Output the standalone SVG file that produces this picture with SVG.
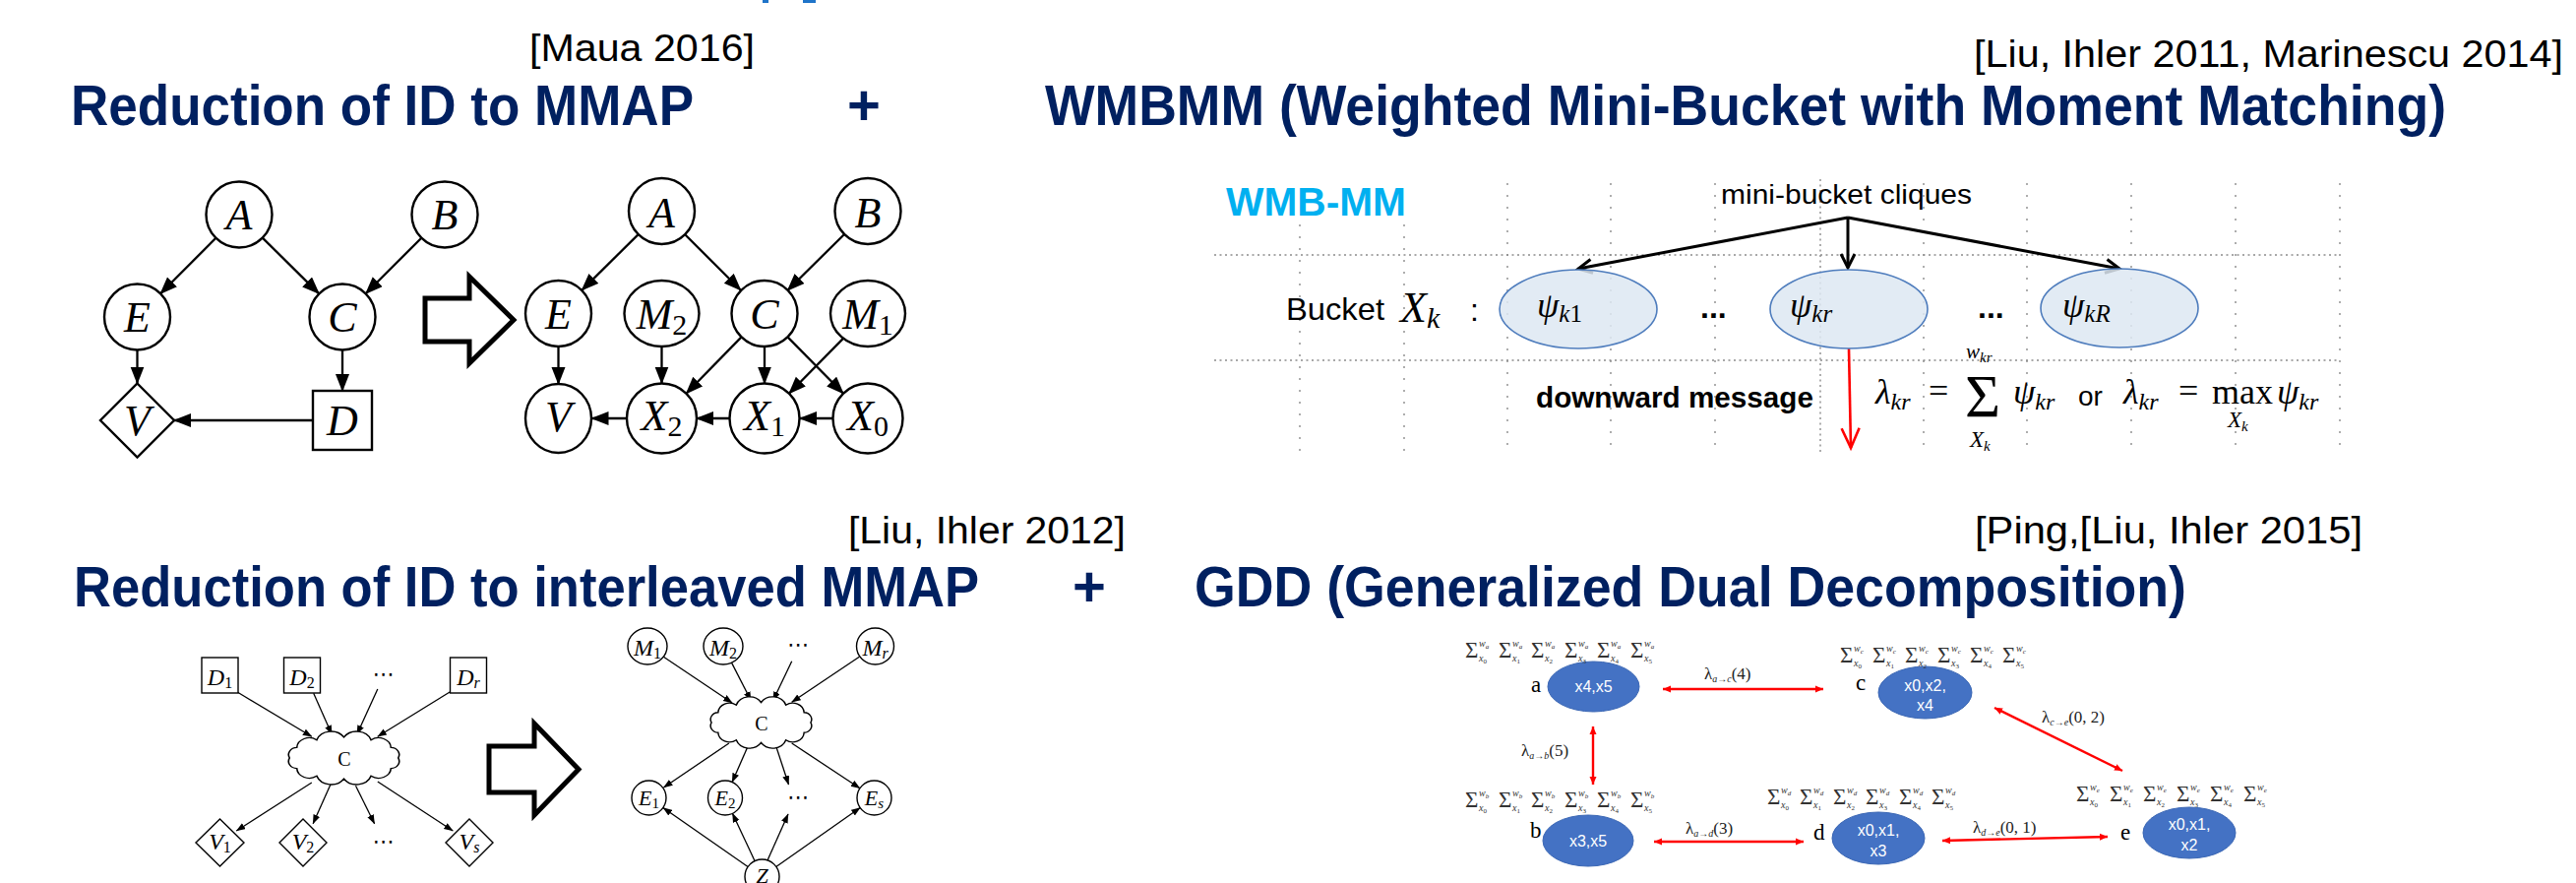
<svg xmlns="http://www.w3.org/2000/svg" width="2618" height="897" viewBox="0 0 2618 897">
<style>
  .ttl{font-family:"Liberation Sans",Arial,sans-serif;font-weight:bold;font-size:58px;fill:#002060}
  .cite{font-family:"Liberation Sans",Arial,sans-serif;font-size:38px;fill:#000}
  .sans{font-family:"Liberation Sans",Arial,sans-serif;fill:#000}
  .mi{font-family:"Liberation Serif","Times New Roman",serif;font-style:italic;fill:#000}
  .rm{font-family:"Liberation Serif","Times New Roman",serif;font-style:normal;fill:#000}
  .lg{font-size:44px}
  .sub{font-size:30px}
  .sm{font-size:24px}
  .smsub{font-size:16px}
  .nd{fill:#fff;stroke:#000;stroke-width:2.4}
  .ed{fill:none;stroke:#000;stroke-width:2.3;marker-end:url(#ah)}
  .nd2{fill:#fff;stroke:#000;stroke-width:1.4}
  .cl{fill:#fff;stroke:#000;stroke-width:1.4}
  .ed2{fill:none;stroke:#000;stroke-width:1.3;marker-end:url(#ah2)}
  .blk{fill:#fff;stroke:#000;stroke-width:5;stroke-linejoin:miter}
  .gh{stroke:#8c8c8c;stroke-width:1.4;stroke-dasharray:2 3.5;fill:none}
  .gv{stroke:#8c8c8c;stroke-width:1.4;stroke-dasharray:2 10;fill:none}
  .bk{fill:#dde7f2;fill-opacity:0.85;stroke:#4f7dbd;stroke-width:1.6}
  .mb{fill:none;stroke:#000;stroke-width:3;marker-end:url(#chev)}
  .gn{fill:#4472c4;stroke:#3b67b4;stroke-width:1}
  .gt{font-family:"Liberation Sans",Arial,sans-serif;font-size:16px;fill:#fff;text-anchor:middle}
  .gl{font-family:"Liberation Serif","Times New Roman",serif;font-size:23px;fill:#000}
  .ge{fill:none;stroke:#f00;stroke-width:2.4;marker-start:url(#rh);marker-end:url(#rh)}
  .sg{font-family:"Liberation Serif","Times New Roman",serif;font-size:23px;fill:#333}
  .sw{font-style:italic;font-size:10px}
  .sl{font-style:italic;font-size:7px}
  .sd{font-style:normal;font-size:7px}
  .lm{font-family:"Liberation Serif","Times New Roman",serif;font-size:17px;fill:#222}
  .ls{font-style:italic;font-size:10px}
  .dots{font-family:"DejaVu Sans",sans-serif;font-size:22px;text-anchor:middle;fill:#000}
</style>
<defs>
  <marker id="ah" markerUnits="userSpaceOnUse" markerWidth="20" markerHeight="16" refX="17" refY="7" orient="auto">
    <path d="M0,0 L18,7 L0,14 Z" fill="#000"/>
  </marker>
  <marker id="ah2" markerUnits="userSpaceOnUse" markerWidth="12" markerHeight="8" refX="9" refY="3.5" orient="auto">
    <path d="M0,0 L9.5,3.5 L0,7 Z" fill="#000"/>
  </marker>
  <marker id="chev" markerUnits="userSpaceOnUse" markerWidth="20" markerHeight="20" refX="15" refY="8" orient="auto" overflow="visible">
    <path d="M1,1 L15,8 L1,15" fill="none" stroke="#000" stroke-width="3"/>
  </marker>
  <marker id="chevr" markerUnits="userSpaceOnUse" markerWidth="24" markerHeight="22" refX="21" refY="10" orient="auto" overflow="visible">
    <path d="M1,1 L21,10 L1,19" fill="none" stroke="#f00" stroke-width="2.6"/>
  </marker>
  <marker id="rh" markerUnits="userSpaceOnUse" markerWidth="10" markerHeight="8" refX="8" refY="4" orient="auto-start-reverse">
    <path d="M0,0.5 L8,4 L0,7.5 Z" fill="#f00"/>
  </marker>
  <!-- scalloped cloud outline, centred on the origin -->
  <path id="cloud" d="M48,0 A7.5,7.5 0 0 1 41.6,11 A11,11 0 0 1 24,19.1 A13.5,13.5 0 0 1 0,22 A13.5,13.5 0 0 1 -24,19.1 A11,11 0 0 1 -41.6,11 A7.5,7.5 0 0 1 -48,0 A7.5,7.5 0 0 1 -41.6,-11 A11,11 0 0 1 -24,-19.1 A13.5,13.5 0 0 1 0,-22 A13.5,13.5 0 0 1 24,-19.1 A11,11 0 0 1 41.6,-11 A7.5,7.5 0 0 1 48,0 Z"/>
</defs>

<rect width="2618" height="897" fill="#fff"/>

<!-- remnants of the heading cut off at the top edge -->
<g id="top-edge" fill="#1f74c9">
  <rect x="775" y="0" width="6" height="3"/>
  <rect x="816" y="0" width="13" height="3"/>
</g>

<!-- section headings -->
<g id="headings">
  <text class="cite" x="538" y="62" textLength="229" lengthAdjust="spacingAndGlyphs">[Maua 2016]</text>
  <text class="ttl" x="72" y="127" textLength="633" lengthAdjust="spacingAndGlyphs">Reduction of ID to MMAP</text>
  <text class="ttl" x="878" y="127" text-anchor="middle">+</text>
  <text class="cite" x="2006" y="68" textLength="599" lengthAdjust="spacingAndGlyphs">[Liu, Ihler 2011, Marinescu 2014]</text>
  <text class="ttl" x="1062" y="127" textLength="1424" lengthAdjust="spacingAndGlyphs">WMBMM (Weighted Mini-Bucket with Moment Matching)</text>
  <text class="cite" x="862" y="552" textLength="282" lengthAdjust="spacingAndGlyphs">[Liu, Ihler 2012]</text>
  <text class="ttl" x="75" y="616" textLength="920" lengthAdjust="spacingAndGlyphs">Reduction of ID to interleaved MMAP</text>
  <text class="ttl" x="1107" y="616" text-anchor="middle">+</text>
  <text class="cite" x="2007" y="552" textLength="394" lengthAdjust="spacingAndGlyphs">[Ping,[Liu, Ihler 2015]</text>
  <text class="ttl" x="1214" y="616" textLength="1008" lengthAdjust="spacingAndGlyphs">GDD (Generalized Dual Decomposition)</text>
</g>

<!-- ===== influence diagram (top left) ===== -->
<g id="id-edges">
  <line class="ed" x1="219.4" y1="241.8" x2="163.1" y2="298.3"/>
  <line class="ed" x1="266.8" y1="241.6" x2="324.2" y2="298.4"/>
  <line class="ed" x1="428.3" y1="241.7" x2="371.7" y2="298.3"/>
  <line class="ed" x1="139.5" y1="355.5" x2="139.5" y2="389.5"/>
  <line class="ed" x1="348" y1="355.5" x2="348" y2="397"/>
  <line class="ed" x1="318" y1="427" x2="177" y2="427"/>
</g>
<g id="id-A"><circle class="nd" cx="243" cy="218" r="33.5"/><text class="mi lg" x="243" y="233" text-anchor="middle">A</text></g>
<g id="id-B"><circle class="nd" cx="452" cy="218" r="33.5"/><text class="mi lg" x="452" y="233" text-anchor="middle">B</text></g>
<g id="id-E"><circle class="nd" cx="139.5" cy="322" r="33.5"/><text class="mi lg" x="139.5" y="337" text-anchor="middle">E</text></g>
<g id="id-C"><circle class="nd" cx="348" cy="322" r="33.5"/><text class="mi lg" x="348" y="337" text-anchor="middle">C</text></g>
<g id="id-V"><polygon class="nd" points="139.5,389.5 177,427 139.5,464.5 102,427"/><text class="mi lg" x="139.5" y="442" text-anchor="middle">V</text></g>
<g id="id-D"><rect class="nd" x="318" y="397" width="60" height="60"/><text class="mi lg" x="348" y="442" text-anchor="middle">D</text></g>

<g id="arrow-1"><path class="blk" d="M432,303 L477,303 L477,281 L522,325 L477,369 L477,347 L432,347 Z"/></g>

<!-- ===== MMAP network (top middle) ===== -->
<g id="mm-edges">
  <line class="ed" x1="648.7" y1="238.1" x2="591.3" y2="294.9"/>
  <line class="ed" x1="696.2" y1="238.2" x2="752.8" y2="294.8"/>
  <line class="ed" x1="858.1" y1="238" x2="800.4" y2="295"/>
  <line class="ed" x1="567.5" y1="352" x2="567.5" y2="390"/>
  <line class="ed" x1="672.5" y1="352" x2="672.5" y2="389.5"/>
  <line class="ed" x1="777" y1="352" x2="777" y2="389.5"/>
  <line class="ed" x1="753.5" y1="342.4" x2="697.4" y2="399.7"/>
  <line class="ed" x1="800.5" y1="342.4" x2="857.1" y2="399.7"/>
  <line class="ed" x1="857.4" y1="343.4" x2="801.9" y2="399.7"/>
  <line class="ed" x1="846.5" y1="425" x2="813" y2="425"/>
  <line class="ed" x1="741.5" y1="425" x2="708" y2="425"/>
  <line class="ed" x1="636.5" y1="425" x2="601.5" y2="425"/>
</g>
<g id="mm-A"><circle class="nd" cx="672.5" cy="214.5" r="33.5"/><text class="mi lg" x="672.5" y="231" text-anchor="middle">A</text></g>
<g id="mm-B"><circle class="nd" cx="882" cy="214.5" r="33.5"/><text class="mi lg" x="882" y="231" text-anchor="middle">B</text></g>
<g id="mm-E"><circle class="nd" cx="567.5" cy="318.5" r="33.5"/><text class="mi lg" x="567.5" y="334" text-anchor="middle">E</text></g>
<g id="mm-M2"><ellipse class="nd" cx="672.5" cy="318.5" rx="38" ry="33.5"/><text class="mi lg" x="672.5" y="334" text-anchor="middle">M<tspan class="rm sub" dy="6">2</tspan></text></g>
<g id="mm-C"><circle class="nd" cx="777" cy="318.5" r="33.5"/><text class="mi lg" x="777" y="334" text-anchor="middle">C</text></g>
<g id="mm-M1"><ellipse class="nd" cx="882" cy="318.5" rx="38" ry="33.5"/><text class="mi lg" x="882" y="334" text-anchor="middle">M<tspan class="rm sub" dy="6">1</tspan></text></g>
<g id="mm-V"><ellipse class="nd" cx="567.5" cy="425" rx="33.5" ry="35"/><text class="mi lg" x="567.5" y="438" text-anchor="middle">V</text></g>
<g id="mm-X2"><circle class="nd" cx="672.5" cy="425" r="35.5"/><text class="mi lg" x="672.5" y="437" text-anchor="middle">X<tspan class="rm sub" dy="6">2</tspan></text></g>
<g id="mm-X1"><circle class="nd" cx="777" cy="425" r="35.5"/><text class="mi lg" x="777" y="437" text-anchor="middle">X<tspan class="rm sub" dy="6">1</tspan></text></g>
<g id="mm-X0"><circle class="nd" cx="882" cy="425" r="35.5"/><text class="mi lg" x="882" y="437" text-anchor="middle">X<tspan class="rm sub" dy="6">0</tspan></text></g>

<!-- ===== WMB-MM bucket (top right) ===== -->
<g id="wmb-grid">
  <line class="gh" x1="1234" y1="259" x2="2378" y2="259"/>
  <line class="gh" x1="1234" y1="366" x2="2378" y2="366"/>
  <line class="gv" x1="1321" y1="228" x2="1321" y2="460"/>
  <line class="gv" x1="1427" y1="228" x2="1427" y2="460"/>
  <line class="gv" x1="1532" y1="186" x2="1532" y2="460"/>
  <line class="gv" x1="1637" y1="186" x2="1637" y2="460"/>
  <line class="gv" x1="1743" y1="186" x2="1743" y2="460"/>
  <line class="gh" x1="1850" y1="182" x2="1850" y2="460"/>
  <line class="gv" x1="1955" y1="186" x2="1955" y2="460"/>
  <line class="gv" x1="2060" y1="186" x2="2060" y2="460"/>
  <line class="gv" x1="2166" y1="186" x2="2166" y2="460"/>
  <line class="gv" x1="2272" y1="186" x2="2272" y2="460"/>
  <line class="gv" x1="2378" y1="186" x2="2378" y2="460"/>
</g>
<text x="1246" y="219" font-family="Liberation Sans, Arial, sans-serif" font-weight="bold" font-size="41" fill="#00b0f0" textLength="183" lengthAdjust="spacingAndGlyphs">WMB-MM</text>
<text class="sans" x="1749" y="207" font-size="28" textLength="255" lengthAdjust="spacingAndGlyphs">mini-bucket cliques</text>
<g id="wmb-edges">
  <line class="mb" x1="1878" y1="221" x2="1604" y2="273"/>
  <line class="mb" x1="1878" y1="221" x2="1878" y2="272"/>
  <line class="mb" x1="1878" y1="221" x2="2154" y2="273"/>
  <line x1="1879" y1="354" x2="1881" y2="455" stroke="#f00" stroke-width="2.6" marker-end="url(#chevr)"/>
</g>
<g id="bucket-label">
  <text class="sans" x="1307" y="325" font-size="32" textLength="100" lengthAdjust="spacingAndGlyphs">Bucket</text>
  <text class="mi" x="1423" y="327" font-size="44">X<tspan font-size="30" dy="6">k</tspan></text>
  <text class="sans" x="1494" y="326" font-size="32">:</text>
</g>
<g id="clique-k1"><ellipse class="bk" cx="1604" cy="314" rx="80" ry="40"/><text class="mi" x="1562" y="322" font-size="36">ψ<tspan font-size="25" dy="5">k</tspan><tspan class="rm" font-size="25">1</tspan></text></g>
<text class="sans" x="1728" y="323" font-size="32" font-weight="bold">...</text>
<g id="clique-kr"><ellipse class="bk" cx="1879" cy="314" rx="80" ry="40"/><text class="mi" x="1819" y="322" font-size="36">ψ<tspan font-size="25" dy="5">kr</tspan></text></g>
<text class="sans" x="2010" y="323" font-size="32" font-weight="bold">...</text>
<g id="clique-kR"><ellipse class="bk" cx="2154" cy="313" rx="80" ry="40"/><text class="mi" x="2096" y="322" font-size="36">ψ<tspan font-size="25" dy="5">kR</tspan></text></g>
<text class="sans" x="1561" y="414" font-size="29" font-weight="bold" fill="#f00" textLength="282" lengthAdjust="spacingAndGlyphs">downward message</text>
<g id="message-formula">
  <text class="mi" x="1906" y="410" font-size="36">λ<tspan font-size="24" dy="6">kr</tspan></text>
  <text class="rm" x="1960" y="409" font-size="36">=</text>
  <text class="rm" x="1997" y="423" font-size="62">Σ</text>
  <text class="mi" x="1998" y="364" font-size="21">w<tspan font-size="15" dy="4">kr</tspan></text>
  <text class="mi" x="2002" y="454" font-size="23">X<tspan font-size="15" dy="4">k</tspan></text>
  <text class="mi" x="2046" y="410" font-size="36">ψ<tspan font-size="24" dy="6">kr</tspan></text>
  <text class="sans" x="2112" y="412" font-size="28">or</text>
  <text class="mi" x="2158" y="410" font-size="36">λ<tspan font-size="24" dy="6">kr</tspan></text>
  <text class="rm" x="2214" y="409" font-size="36">=</text>
  <text class="rm" x="2248" y="410" font-size="36">max</text>
  <text class="mi" x="2264" y="434" font-size="23">X<tspan font-size="15" dy="4">k</tspan></text>
  <text class="mi" x="2314" y="410" font-size="36">ψ<tspan font-size="24" dy="6">kr</tspan></text>
</g>

<!-- ===== decision network with cloud (bottom left) ===== -->
<g id="dn-edges">
  <line class="ed2" x1="241.6" y1="703.3" x2="316.8" y2="748.3"/>
  <line class="ed2" x1="318.7" y1="704.3" x2="337.2" y2="746"/>
  <line class="ed2" x1="383.8" y1="700" x2="362.8" y2="746"/>
  <line class="ed2" x1="457.1" y1="703" x2="383.8" y2="748.3"/>
  <line class="ed2" x1="316.8" y1="795" x2="240.3" y2="844"/>
  <line class="ed2" x1="336" y1="796.7" x2="318.1" y2="836.7"/>
  <line class="ed2" x1="361.5" y1="798.3" x2="380.6" y2="836.7"/>
  <line class="ed2" x1="383.8" y1="794" x2="460.3" y2="844"/>
</g>
<g id="dn-D1"><rect class="nd2" x="205" y="668" width="37" height="36"/><text class="mi sm" x="223.5" y="696" text-anchor="middle">D<tspan class="rm smsub" dy="3">1</tspan></text></g>
<g id="dn-D2"><rect class="nd2" x="288.5" y="668" width="37" height="36"/><text class="mi sm" x="307" y="696" text-anchor="middle">D<tspan class="rm smsub" dy="3">2</tspan></text></g>
<text class="dots" x="389.5" y="692">⋯</text>
<g id="dn-Dr"><rect class="nd2" x="457.5" y="668" width="37" height="36"/><text class="mi sm" x="476" y="696" text-anchor="middle">D<tspan class="smsub" dy="3">r</tspan></text></g>
<g id="dn-C"><use href="#cloud" class="cl" vector-effect="non-scaling-stroke" transform="translate(349.5,770) scale(1.15,0.96)"/><text class="rm" x="350" y="778" font-size="20" text-anchor="middle">C</text></g>
<g id="dn-V1"><polygon class="nd2" points="223.5,832 248,856 223.5,880 199,856"/><text class="mi sm" x="223.5" y="863" text-anchor="middle">V<tspan class="rm smsub" dy="3">1</tspan></text></g>
<g id="dn-V2"><polygon class="nd2" points="308,832 332,856 308,880 284,856"/><text class="mi sm" x="308" y="863" text-anchor="middle">V<tspan class="rm smsub" dy="3">2</tspan></text></g>
<text class="dots" x="389.5" y="862">⋯</text>
<g id="dn-Vs"><polygon class="nd2" points="477,832 501,856 477,880 453,856"/><text class="mi sm" x="477" y="863" text-anchor="middle">V<tspan class="smsub" dy="3">s</tspan></text></g>

<g id="arrow-2"><path class="blk" d="M497,758 L543,758 L543,735 L588,781.5 L543,828 L543,805 L497,805 Z"/></g>

<!-- ===== interleaved MMAP network (bottom middle) ===== -->
<g id="im-edges">
  <line class="ed2" x1="674" y1="667" x2="744.1" y2="714"/>
  <line class="ed2" x1="743.5" y1="673.1" x2="763.3" y2="711.7"/>
  <line class="ed2" x1="804.7" y1="671.7" x2="785.6" y2="711.7"/>
  <line class="ed2" x1="873.3" y1="667.3" x2="804.7" y2="713.3"/>
  <line class="ed2" x1="740.9" y1="755" x2="674.5" y2="800"/>
  <line class="ed2" x1="760" y1="758.3" x2="744.1" y2="794.5"/>
  <line class="ed2" x1="788.8" y1="758.3" x2="801.5" y2="797"/>
  <line class="ed2" x1="804.7" y1="755" x2="873.9" y2="800.8"/>
  <line class="ed2" x1="760.1" y1="880.5" x2="673.9" y2="820.5"/>
  <line class="ed2" x1="767.1" y1="874.7" x2="744.4" y2="826.3"/>
  <line class="ed2" x1="780" y1="874" x2="801" y2="827"/>
  <line class="ed2" x1="788.8" y1="880.5" x2="874.2" y2="820.5"/>
</g>
<g id="im-M1"><ellipse class="nd2" cx="658" cy="656.5" rx="20" ry="18.5"/><text class="mi sm" x="658" y="666" text-anchor="middle">M<tspan class="rm smsub" dy="3">1</tspan></text></g>
<g id="im-M2"><ellipse class="nd2" cx="735" cy="656.5" rx="20" ry="18.5"/><text class="mi sm" x="735" y="666" text-anchor="middle">M<tspan class="rm smsub" dy="3">2</tspan></text></g>
<text class="dots" x="811" y="662">⋯</text>
<g id="im-Mr"><ellipse class="nd2" cx="889.5" cy="656.5" rx="19" ry="18.5"/><text class="mi sm" x="889.5" y="666" text-anchor="middle">M<tspan class="smsub" dy="3">r</tspan></text></g>
<g id="im-C"><use href="#cloud" class="cl" vector-effect="non-scaling-stroke" transform="translate(773.5,734) scale(1.05,0.93)"/><text class="rm" x="774" y="742" font-size="20" text-anchor="middle">C</text></g>
<g id="im-E1"><circle class="nd2" cx="659.5" cy="810.5" r="17.5"/><text class="mi" x="659.5" y="818" font-size="22" text-anchor="middle">E<tspan class="rm" font-size="15" dy="3">1</tspan></text></g>
<g id="im-E2"><circle class="nd2" cx="737" cy="810.5" r="17.5"/><text class="mi" x="737" y="818" font-size="22" text-anchor="middle">E<tspan class="rm" font-size="15" dy="3">2</tspan></text></g>
<text class="dots" x="811" y="817">⋯</text>
<g id="im-Es"><circle class="nd2" cx="888.5" cy="810.5" r="17.5"/><text class="mi" x="888.5" y="818" font-size="22" text-anchor="middle">E<tspan font-size="15" dy="3">s</tspan></text></g>
<g id="im-Z"><circle class="nd2" cx="774.5" cy="890.5" r="17.5"/><text class="mi" x="774.5" y="897" font-size="22" text-anchor="middle">Z</text></g>

<!-- ===== GDD cluster graph (bottom right) ===== -->
<g id="gdd-edges">
  <line class="ge" x1="1690" y1="700" x2="1853" y2="700"/>
  <line class="ge" x1="1619" y1="738" x2="1619" y2="797"/>
  <line class="ge" x1="2027" y1="719" x2="2157" y2="783"/>
  <line class="ge" x1="1681" y1="855" x2="1833" y2="855"/>
  <line class="ge" x1="1974" y1="854" x2="2142" y2="850"/>
  <text class="lm" x="1732" y="690">λ<tspan class="ls" dy="3">a→c</tspan><tspan dy="-3">(4)</tspan></text>
  <text class="lm" x="1546" y="768">λ<tspan class="ls" dy="3">a→b</tspan><tspan dy="-3">(5)</tspan></text>
  <text class="lm" x="2075" y="734">λ<tspan class="ls" dy="3">c→e</tspan><tspan dy="-3">(0, 2)</tspan></text>
  <text class="lm" x="1713" y="847">λ<tspan class="ls" dy="3">a→d</tspan><tspan dy="-3">(3)</tspan></text>
  <text class="lm" x="2005" y="846">λ<tspan class="ls" dy="3">d→e</tspan><tspan dy="-3">(0, 1)</tspan></text>
</g>

<g id="gdd-a">
  <ellipse class="gn" cx="1619.5" cy="697.5" rx="46.5" ry="25.5"/>
  <text class="gt" x="1619.5" y="703">x4,x5</text>
  <text class="gl" x="1556" y="703">a</text>
  <text class="sg"><tspan x="1489" y="668">Σ</tspan><tspan class="sw" x="1503" y="657">w</tspan><tspan class="sl" dy="2">a</tspan><tspan class="sw" x="1503" y="672">x</tspan><tspan class="sd" dy="2">0</tspan><tspan x="1523" y="668">Σ</tspan><tspan class="sw" x="1537" y="657">w</tspan><tspan class="sl" dy="2">a</tspan><tspan class="sw" x="1537" y="672">x</tspan><tspan class="sd" dy="2">1</tspan><tspan x="1556" y="668">Σ</tspan><tspan class="sw" x="1570" y="657">w</tspan><tspan class="sl" dy="2">a</tspan><tspan class="sw" x="1570" y="672">x</tspan><tspan class="sd" dy="2">2</tspan><tspan x="1590" y="668">Σ</tspan><tspan class="sw" x="1604" y="657">w</tspan><tspan class="sl" dy="2">a</tspan><tspan class="sw" x="1604" y="672">x</tspan><tspan class="sd" dy="2">3</tspan><tspan x="1623" y="668">Σ</tspan><tspan class="sw" x="1637" y="657">w</tspan><tspan class="sl" dy="2">a</tspan><tspan class="sw" x="1637" y="672">x</tspan><tspan class="sd" dy="2">4</tspan><tspan x="1657" y="668">Σ</tspan><tspan class="sw" x="1671" y="657">w</tspan><tspan class="sl" dy="2">a</tspan><tspan class="sw" x="1671" y="672">x</tspan><tspan class="sd" dy="2">5</tspan></text>
</g>
<g id="gdd-c">
  <ellipse class="gn" cx="1956.5" cy="703.5" rx="47.5" ry="26.5"/>
  <text class="gt" x="1956.5" y="702">x0,x2,</text>
  <text class="gt" x="1956.5" y="722">x4</text>
  <text class="gl" x="1886" y="701">c</text>
  <text class="sg"><tspan x="1870" y="673">Σ</tspan><tspan class="sw" x="1884" y="662">w</tspan><tspan class="sl" dy="2">c</tspan><tspan class="sw" x="1884" y="677">x</tspan><tspan class="sd" dy="2">0</tspan><tspan x="1903" y="673">Σ</tspan><tspan class="sw" x="1917" y="662">w</tspan><tspan class="sl" dy="2">c</tspan><tspan class="sw" x="1917" y="677">x</tspan><tspan class="sd" dy="2">1</tspan><tspan x="1936" y="673">Σ</tspan><tspan class="sw" x="1950" y="662">w</tspan><tspan class="sl" dy="2">c</tspan><tspan class="sw" x="1950" y="677">x</tspan><tspan class="sd" dy="2">2</tspan><tspan x="1969" y="673">Σ</tspan><tspan class="sw" x="1983" y="662">w</tspan><tspan class="sl" dy="2">c</tspan><tspan class="sw" x="1983" y="677">x</tspan><tspan class="sd" dy="2">3</tspan><tspan x="2002" y="673">Σ</tspan><tspan class="sw" x="2016" y="662">w</tspan><tspan class="sl" dy="2">c</tspan><tspan class="sw" x="2016" y="677">x</tspan><tspan class="sd" dy="2">4</tspan><tspan x="2035" y="673">Σ</tspan><tspan class="sw" x="2049" y="662">w</tspan><tspan class="sl" dy="2">c</tspan><tspan class="sw" x="2049" y="677">x</tspan><tspan class="sd" dy="2">5</tspan></text>
</g>
<g id="gdd-b">
  <ellipse class="gn" cx="1614" cy="854" rx="46" ry="26"/>
  <text class="gt" x="1614" y="860">x3,x5</text>
  <text class="gl" x="1555" y="851">b</text>
  <text class="sg"><tspan x="1489" y="820">Σ</tspan><tspan class="sw" x="1503" y="809">w</tspan><tspan class="sl" dy="2">b</tspan><tspan class="sw" x="1503" y="824">x</tspan><tspan class="sd" dy="2">0</tspan><tspan x="1523" y="820">Σ</tspan><tspan class="sw" x="1537" y="809">w</tspan><tspan class="sl" dy="2">b</tspan><tspan class="sw" x="1537" y="824">x</tspan><tspan class="sd" dy="2">1</tspan><tspan x="1556" y="820">Σ</tspan><tspan class="sw" x="1570" y="809">w</tspan><tspan class="sl" dy="2">b</tspan><tspan class="sw" x="1570" y="824">x</tspan><tspan class="sd" dy="2">2</tspan><tspan x="1590" y="820">Σ</tspan><tspan class="sw" x="1604" y="809">w</tspan><tspan class="sl" dy="2">b</tspan><tspan class="sw" x="1604" y="824">x</tspan><tspan class="sd" dy="2">3</tspan><tspan x="1623" y="820">Σ</tspan><tspan class="sw" x="1637" y="809">w</tspan><tspan class="sl" dy="2">b</tspan><tspan class="sw" x="1637" y="824">x</tspan><tspan class="sd" dy="2">4</tspan><tspan x="1657" y="820">Σ</tspan><tspan class="sw" x="1671" y="809">w</tspan><tspan class="sl" dy="2">b</tspan><tspan class="sw" x="1671" y="824">x</tspan><tspan class="sd" dy="2">5</tspan></text>
</g>
<g id="gdd-d">
  <ellipse class="gn" cx="1909" cy="851.5" rx="47" ry="26.5"/>
  <text class="gt" x="1909" y="849">x0,x1,</text>
  <text class="gt" x="1909" y="870">x3</text>
  <text class="gl" x="1843" y="853">d</text>
  <text class="sg"><tspan x="1796" y="817">Σ</tspan><tspan class="sw" x="1810" y="806">w</tspan><tspan class="sl" dy="2">d</tspan><tspan class="sw" x="1810" y="821">x</tspan><tspan class="sd" dy="2">0</tspan><tspan x="1829" y="817">Σ</tspan><tspan class="sw" x="1843" y="806">w</tspan><tspan class="sl" dy="2">d</tspan><tspan class="sw" x="1843" y="821">x</tspan><tspan class="sd" dy="2">1</tspan><tspan x="1863" y="817">Σ</tspan><tspan class="sw" x="1877" y="806">w</tspan><tspan class="sl" dy="2">d</tspan><tspan class="sw" x="1877" y="821">x</tspan><tspan class="sd" dy="2">2</tspan><tspan x="1896" y="817">Σ</tspan><tspan class="sw" x="1910" y="806">w</tspan><tspan class="sl" dy="2">d</tspan><tspan class="sw" x="1910" y="821">x</tspan><tspan class="sd" dy="2">3</tspan><tspan x="1930" y="817">Σ</tspan><tspan class="sw" x="1944" y="806">w</tspan><tspan class="sl" dy="2">d</tspan><tspan class="sw" x="1944" y="821">x</tspan><tspan class="sd" dy="2">4</tspan><tspan x="1963" y="817">Σ</tspan><tspan class="sw" x="1977" y="806">w</tspan><tspan class="sl" dy="2">d</tspan><tspan class="sw" x="1977" y="821">x</tspan><tspan class="sd" dy="2">5</tspan></text>
</g>
<g id="gdd-e">
  <ellipse class="gn" cx="2225" cy="846" rx="47" ry="26"/>
  <text class="gt" x="2225" y="843">x0,x1,</text>
  <text class="gt" x="2225" y="864">x2</text>
  <text class="gl" x="2155" y="853">e</text>
  <text class="sg"><tspan x="2110" y="814">Σ</tspan><tspan class="sw" x="2124" y="803">w</tspan><tspan class="sl" dy="2">e</tspan><tspan class="sw" x="2124" y="818">x</tspan><tspan class="sd" dy="2">0</tspan><tspan x="2144" y="814">Σ</tspan><tspan class="sw" x="2158" y="803">w</tspan><tspan class="sl" dy="2">e</tspan><tspan class="sw" x="2158" y="818">x</tspan><tspan class="sd" dy="2">1</tspan><tspan x="2178" y="814">Σ</tspan><tspan class="sw" x="2192" y="803">w</tspan><tspan class="sl" dy="2">e</tspan><tspan class="sw" x="2192" y="818">x</tspan><tspan class="sd" dy="2">2</tspan><tspan x="2212" y="814">Σ</tspan><tspan class="sw" x="2226" y="803">w</tspan><tspan class="sl" dy="2">e</tspan><tspan class="sw" x="2226" y="818">x</tspan><tspan class="sd" dy="2">3</tspan><tspan x="2246" y="814">Σ</tspan><tspan class="sw" x="2260" y="803">w</tspan><tspan class="sl" dy="2">e</tspan><tspan class="sw" x="2260" y="818">x</tspan><tspan class="sd" dy="2">4</tspan><tspan x="2280" y="814">Σ</tspan><tspan class="sw" x="2294" y="803">w</tspan><tspan class="sl" dy="2">e</tspan><tspan class="sw" x="2294" y="818">x</tspan><tspan class="sd" dy="2">5</tspan></text>
</g>
</svg>
